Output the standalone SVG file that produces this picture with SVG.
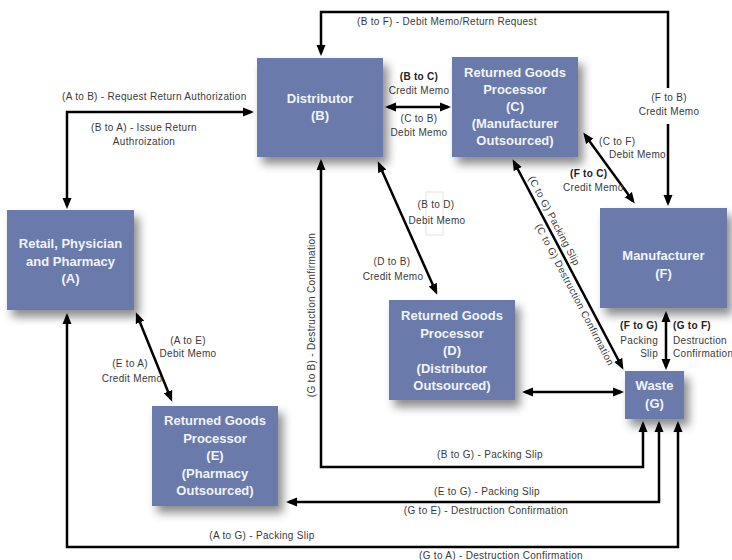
<svg xmlns="http://www.w3.org/2000/svg" width="732" height="560" viewBox="0 0 732 560">
<defs>
<filter id="sh" x="-20%" y="-20%" width="150%" height="160%">
<feDropShadow dx="5" dy="7" stdDeviation="5" flood-color="#000" flood-opacity="0.45"/>
</filter>
<marker id="ah" markerUnits="userSpaceOnUse" markerWidth="11" markerHeight="10" viewBox="0 0 11 10" refX="8" refY="5" orient="auto-start-reverse">
<path d="M0,0.5 L11,5 L0,9.5 z" fill="#000"/>
</marker>
<style>
.nd{fill:#6a7aab;filter:url(#sh)}
.nt{font-family:"Liberation Sans",Arial,sans-serif;font-weight:bold;font-size:13px;fill:#f2f4fa;text-anchor:middle}
.cn{fill:none;stroke:#000;stroke-width:2.5;marker-start:url(#ah);marker-end:url(#ah)}
.lb{font-family:"Liberation Sans",Arial,sans-serif;font-size:10px;letter-spacing:0.3px;fill:#3a3a3a}
.m{text-anchor:middle}
.e{text-anchor:end}
.b{font-weight:bold;fill:#222}
</style>
</defs>
<rect width="732" height="560" fill="#fff"/>

<g id="connectors">
<path class="cn" d="M668,203 L668,12 L321,12 L321,53"/>
<path class="cn" d="M67,206 L67,112 L251,112"/>
<path class="cn" d="M388,107 L448,107"/>
<path class="cn" d="M585,135 L633,201"/>
<path class="cn" d="M379,164 L436,292"/>
<path class="cn" d="M514,162 L622,367"/>
<path class="cn" d="M525,392 L621,392"/>
<path class="cn" d="M666,314 L666,367"/>
<path class="cn" d="M321,162 L321,467 L643,467 L643,424"/>
<path class="cn" d="M289,502 L659,502 L659,424"/>
<path class="cn" d="M67,316 L67,547 L678,547 L678,424"/>
<path class="cn" d="M137,315 L171,399"/>
</g>

<g id="labels">
<text class="lb" x="357" y="25">(B to F) - Debit Memo/Return Request</text>
<rect x="646" y="88" width="48" height="36" fill="#fff"/>
<text class="lb m" x="669" y="101">(F to B)</text>
<text class="lb m" x="669" y="115">Credit Memo</text>
<text class="lb" x="62" y="100">(A to B) - Request Return Authorization</text>
<text class="lb m" x="144" y="131">(B to A) - Issue Return</text>
<text class="lb m" x="144" y="145">Authroization</text>
<text class="lb m b" x="419" y="80">(B to C)</text>
<text class="lb m" x="419" y="94">Credit Memo</text>
<text class="lb m" x="419" y="122">(C to B)</text>
<text class="lb m" x="419" y="136">Debit Memo</text>
<text class="lb" x="599" y="145">(C to F)</text>
<text class="lb" x="609" y="158">Debit Memo</text>
<text class="lb b" x="570" y="177">(F to C)</text>
<text class="lb" x="563" y="191">Credit Memo</text>
<rect x="426" y="192" width="17" height="43" fill="#fff" stroke="#d8d8d8" stroke-width="0.7"/>
<text class="lb m" x="436" y="208">(B to D)</text>
<text class="lb m" x="437" y="224">Debit Memo</text>
<text class="lb m" x="392" y="265">(D to B)</text>
<text class="lb m" x="393" y="280">Credit Memo</text>
<g transform="translate(513,160) rotate(62.4)">
<text class="lb m" x="73" y="-5">(C to G) Packing Slip</text>
<text class="lb m" x="148" y="11">(C to G) Destruction Confirmation</text>
</g>
<text class="lb e b" x="658" y="329">(F to G)</text>
<text class="lb e" x="658" y="344">Packing</text>
<text class="lb e" x="658" y="357">Slip</text>
<text class="lb b" x="673" y="329">(G to F)</text>
<text class="lb" x="673" y="344">Destruction</text>
<text class="lb" x="673" y="357">Confirmation</text>
<text class="lb m" transform="translate(315,315) rotate(-90)" x="0" y="0">(G to B) - Destruction Confirmation</text>
<text class="lb m" x="490" y="458">(B to G) - Packing Slip</text>
<text class="lb m" x="487" y="495">(E to G) - Packing Slip</text>
<text class="lb m" x="486" y="514">(G to E) - Destruction Confirmation</text>
<text class="lb m" x="262" y="539">(A to G) - Packing Slip</text>
<text class="lb m" x="501" y="559">(G to A) - Destruction Confirmation</text>
<text class="lb m" x="188" y="344">(A to E)</text>
<text class="lb m" x="188" y="357">Debit Memo</text>
<text class="lb m" x="130" y="367">(E to A)</text>
<text class="lb m" x="132" y="382">Credit Memo</text>
</g>

<g id="node-A">
<rect class="nd" x="7" y="210" width="127" height="100"/>
<text class="nt" x="70.5" y="248">Retail, Physician</text>
<text class="nt" x="70.5" y="265.5">and Pharmacy</text>
<text class="nt" x="70.5" y="283">(A)</text>
</g>
<g id="node-B">
<rect class="nd" x="257" y="58" width="126" height="99"/>
<text class="nt" x="320" y="103">Distributor</text>
<text class="nt" x="320" y="120">(B)</text>
</g>
<g id="node-C">
<rect class="nd" x="452" y="57" width="126" height="100"/>
<text class="nt" x="515" y="77">Returned Goods</text>
<text class="nt" x="515" y="94">Processor</text>
<text class="nt" x="515" y="111">(C)</text>
<text class="nt" x="515" y="128">(Manufacturer</text>
<text class="nt" x="515" y="145">Outsourced)</text>
</g>
<g id="node-D">
<rect class="nd" x="389" y="300" width="126" height="100"/>
<text class="nt" x="452" y="320">Returned Goods</text>
<text class="nt" x="452" y="337.5">Processor</text>
<text class="nt" x="452" y="355">(D)</text>
<text class="nt" x="452" y="372.5">(Distributor</text>
<text class="nt" x="452" y="390">Outsourced)</text>
</g>
<g id="node-E">
<rect class="nd" x="152" y="406" width="126" height="100"/>
<text class="nt" x="215" y="425">Returned Goods</text>
<text class="nt" x="215" y="442.5">Processor</text>
<text class="nt" x="215" y="460">(E)</text>
<text class="nt" x="215" y="477.5">(Pharmacy</text>
<text class="nt" x="215" y="495">Outsourced)</text>
</g>
<g id="node-F">
<rect class="nd" x="600" y="208" width="127" height="100"/>
<text class="nt" x="663.5" y="260">Manufacturer</text>
<text class="nt" x="663.5" y="278">(F)</text>
</g>
<g id="node-G">
<rect class="nd" x="625" y="371" width="59" height="48"/>
<text class="nt" x="654.5" y="390">Waste</text>
<text class="nt" x="654.5" y="408">(G)</text>
</g>
</svg>
